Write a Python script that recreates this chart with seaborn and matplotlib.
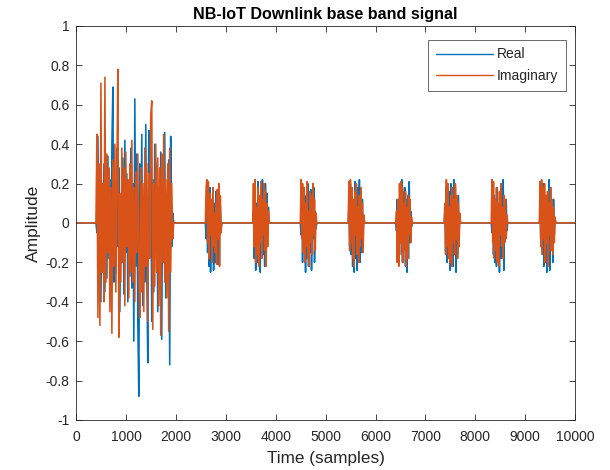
import numpy as np
import pandas as pd
import matplotlib
matplotlib.use("Agg")
import matplotlib.pyplot as plt
import seaborn as sns

# ---- signal data -------------------------------------------------------
# Sample range of the record
t_first, t_last = 1, 10000

# Burst start samples and spacing between consecutive samples within a burst
burst_starts = [410, 2600, 3550, 4505, 5465, 6420, 7390, 8335, 9300]
burst_steps = [20, 15, 15, 15, 15, 15, 15, 15, 15]

# In-phase (real) component, one list per burst
real_bursts = [
    [-0.05, 0.44, -0.32, 0.25, -0.40, 0.18, -0.22, 0.30, -0.35, 0.12,
     -0.28, 0.34, -0.18, 0.22, -0.37, 0.40, 0.69, -0.30, 0.15, -0.25,
     0.38, -0.12, 0.28, -0.45, 0.10, -0.20, 0.33, -0.36, 0.42, -0.15,
     0.25, -0.40, 0.18, -0.27, 0.38, -0.33, 0.20, -0.60, 0.63, -0.22,
     0.35, -0.50, -0.88, 0.30, -0.18, 0.45, -0.42, 0.12, -0.30, 0.50,
     -0.25, -0.71, 0.47, -0.10, 0.28, -0.50, 0.22, -0.35, 0.40, -0.15,
     0.30, -0.45, 0.18, -0.28, 0.36, -0.59, 0.25, -0.20, 0.46, -0.38,
     0.15, -0.30, 0.32, -0.72, 0.44, -0.12, 0.05],
    [-0.08, 0.20, -0.15, 0.12, -0.22, 0.18, -0.25, 0.05, -0.18, 0.14,
     -0.24, 0.10, -0.20, 0.16, -0.12, 0.08, -0.21, 0.13, -0.06, 0.09, -0.03],
    [0.05, -0.18, 0.16, -0.24, 0.10, -0.20, 0.21, -0.14, 0.06, -0.25,
     0.18, -0.08, 0.22, -0.16, 0.12, -0.22, 0.20, -0.10, 0.15, -0.05, 0.08],
    [-0.06, 0.15, -0.20, 0.18, -0.12, 0.08, -0.25, 0.14, -0.18, 0.20,
     -0.22, 0.10, -0.15, 0.17, -0.24, 0.12, -0.08, 0.18, -0.20, 0.06, -0.03],
    [0.08, -0.12, 0.20, -0.16, 0.12, -0.22, 0.06, -0.25, 0.21, -0.18,
     0.14, -0.24, 0.18, -0.10, 0.22, -0.20, 0.10, -0.15, 0.12, -0.06, 0.04],
    [-0.04, 0.12, -0.18, 0.10, -0.16, 0.20, -0.10, 0.22, -0.20, 0.16,
     -0.08, 0.18, -0.22, 0.12, -0.25, 0.14, -0.18, 0.21, -0.10, 0.06, -0.02],
    [0.06, -0.14, 0.18, -0.20, 0.12, -0.08, 0.16, -0.24, 0.20, -0.15,
     0.10, -0.22, 0.22, -0.12, 0.18, -0.25, 0.08, -0.16, 0.14, -0.05, 0.03],
    [-0.05, 0.10, -0.16, 0.14, -0.20, 0.12, -0.22, 0.18, -0.10, 0.08,
     -0.25, 0.16, -0.18, 0.20, -0.12, 0.22, -0.24, 0.10, -0.08, 0.12, -0.04],
    [0.04, -0.10, 0.16, -0.14, 0.20, -0.22, 0.12, -0.18, 0.08, -0.25,
     0.14, -0.12, 0.22, -0.24, 0.18, -0.08, 0.10, -0.20, 0.12, -0.06, 0.02],
]

# Quadrature (imaginary) component, one list per burst
imag_bursts = [
    [0.45, -0.48, 0.30, -0.52, 0.71, -0.25, 0.20, -0.40, 0.74, -0.30,
     0.35, -0.15, 0.28, -0.45, 0.18, -0.56, 0.32, -0.22, 0.40, -0.35,
     0.25, 0.78, -0.58, 0.15, -0.30, 0.38, -0.20, 0.28, -0.42, 0.36,
     -0.12, 0.22, -0.38, 0.30, -0.25, 0.42, -0.30, 0.18, -0.40, 0.26,
     -0.15, 0.35, -0.20, -0.48, 0.28, -0.35, 0.20, -0.45, 0.38, -0.22,
     0.30, -0.50, 0.25, -0.18, 0.55, 0.62, -0.54, 0.20, -0.32, 0.40,
     -0.25, 0.33, -0.42, 0.28, -0.57, 0.35, -0.20, 0.45, -0.30, 0.22,
     -0.38, 0.30, -0.55, 0.38, -0.25, 0.20, -0.08],
    [0.18, 0.22, -0.10, 0.21, -0.18, 0.15, -0.06, 0.12, -0.20, 0.18,
     -0.12, 0.05, -0.15, 0.10, -0.21, 0.17, -0.08, 0.20, -0.22, 0.14, -0.05],
    [0.20, -0.12, 0.22, -0.20, 0.08, -0.16, 0.18, -0.22, 0.14, -0.10,
     0.21, -0.18, 0.12, -0.06, 0.20, -0.14, 0.16, -0.22, 0.10, -0.12, 0.06],
    [0.22, -0.08, 0.20, -0.15, 0.18, -0.20, 0.10, -0.12, 0.21, -0.18,
     0.06, -0.22, 0.16, -0.10, 0.14, -0.16, 0.20, -0.06, 0.12, -0.14, 0.05],
    [0.21, -0.14, 0.22, -0.10, 0.18, -0.18, 0.12, -0.22, 0.16, -0.06,
     0.20, -0.16, 0.08, -0.20, 0.14, -0.12, 0.18, -0.08, 0.10, -0.15, 0.04],
    [0.06, -0.20, 0.12, -0.22, 0.20, -0.10, 0.21, -0.16, 0.18, -0.20,
     0.10, -0.14, 0.16, -0.22, 0.08, -0.18, 0.14, -0.06, 0.12, -0.10, 0.03],
    [0.10, -0.16, 0.22, -0.12, 0.20, -0.18, 0.08, -0.20, 0.14, -0.22,
     0.18, -0.10, 0.12, -0.16, 0.20, -0.08, 0.14, -0.18, 0.10, -0.12, 0.05],
    [0.22, -0.10, 0.21, -0.18, 0.12, -0.14, 0.18, -0.20, 0.10, -0.22,
     0.16, -0.06, 0.20, -0.12, 0.08, -0.18, 0.14, -0.10, 0.12, -0.08, 0.04],
    [0.21, -0.12, 0.22, -0.16, 0.18, -0.08, 0.20, -0.20, 0.14, -0.10,
     0.16, -0.22, 0.10, -0.06, 0.18, -0.14, 0.12, -0.16, 0.08, -0.10, 0.03],
]

series_names = ["Real", "Imaginary"]
title_text = "NB-IoT Downlink base band signal"
x_label = "Time (samples)"
y_label = "Amplitude"
x_ticks = [0, 1000, 2000, 3000, 4000, 5000, 6000, 7000, 8000, 9000, 10000]
y_ticks = [-1, -0.8, -0.6, -0.4, -0.2, 0, 0.2, 0.4, 0.6, 0.8, 1]


def build_component(bursts):
    """Zero-filled sample trace with the bursts placed at their starts."""
    t = [t_first]
    v = [0.0]
    for start, step, vals in zip(burst_starts, burst_steps, bursts):
        n = len(vals)
        pos = start + step * np.arange(n)
        t.append(start - step)
        v.append(0.0)
        t.extend(pos.tolist())
        v.extend(vals)
        t.append(int(pos[-1] + step))
        v.append(0.0)
    t.append(t_last)
    v.append(0.0)
    return t, v


frames = []
for name, bursts in zip(series_names, [real_bursts, imag_bursts]):
    t, v = build_component(bursts)
    frames.append(pd.DataFrame({"t": t, "value": v, "part": name}))
df = pd.concat(frames, ignore_index=True)

# ---- styling -------------------------------------------------------------
sns.set_style("white")
plt.rcParams["font.family"] = ["Liberation Sans", "DejaVu Sans"]
plt.rcParams["axes.edgecolor"] = "#262626"
plt.rcParams["xtick.color"] = "#262626"
plt.rcParams["ytick.color"] = "#262626"
plt.rcParams["axes.linewidth"] = 0.6

fig = plt.figure(figsize=(6.1, 4.7), dpi=100)
ax = fig.add_axes([0.1254, 0.1064, 0.8172, 0.8383])

palette = {"Real": "#0072BD", "Imaginary": "#D95319"}
sns.lineplot(data=df, x="t", y="value", hue="part", hue_order=series_names,
             palette=palette, estimator=None, sort=False, linewidth=1.15,
             ax=ax)

ax.set_xlim(0, 10000)
ax.set_ylim(-1, 1)
ax.set_xticks(x_ticks)
ax.set_yticks(y_ticks)
ax.set_xticklabels([f"{v:g}" for v in x_ticks])
ax.set_yticklabels([f"{v:g}" for v in y_ticks])
ax.tick_params(direction="in", length=4, width=0.6, labelsize=10,
               top=True, right=True, bottom=True, left=True,
               labeltop=False, labelright=False)
ax.tick_params(axis="x", pad=7)
ax.tick_params(axis="y", pad=5)
for side in ax.spines.values():
    side.set_visible(True)
    side.set_color("#262626")
    side.set_linewidth(0.6)

ax.set_xlabel(x_label, fontsize=12.3, color="#262626", labelpad=5)
ax.set_ylabel(y_label, fontsize=12.5, color="#262626", labelpad=3)
ax.set_title(title_text, fontsize=11.6, fontweight="bold", color="black",
             pad=5)

leg = ax.legend(loc="upper right", bbox_to_anchor=(0.982, 0.965),
                fontsize=10, frameon=True, fancybox=False, handlelength=4.1,
                handletextpad=0.3, borderpad=0.55, labelspacing=0.55,
                borderaxespad=0)
leg.get_frame().set_edgecolor("#262626")
leg.get_frame().set_linewidth(0.6)
for line in leg.get_lines():
    line.set_linewidth(1.0)

fig.savefig("out.png", dpi=100)
